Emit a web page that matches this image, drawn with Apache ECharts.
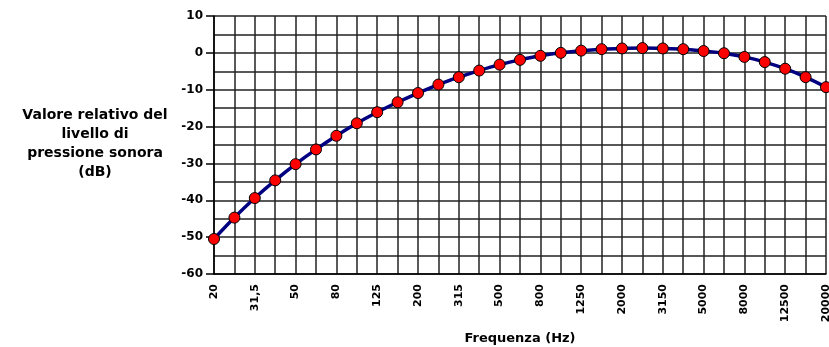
<!DOCTYPE html>
<html>
<head>
<meta charset="utf-8">
<script src="https://cdn.jsdelivr.net/npm/echarts@6/dist/echarts.min.js"></script>
<style>
  html, body { margin: 0; padding: 0; background: #fff; }
  #chart { width: 829px; height: 347px; }
</style>
</head>
<body>
<div id="chart"></div>
<script>
// bande di terzo d'ottava (Hz)
const frequenze = ['20', '25', '31,5', '40', '50', '63', '80', '100', '125', '160',
  '200', '250', '315', '400', '500', '630', '800', '1000', '1250', '1600',
  '2000', '2500', '3150', '4000', '5000', '6300', '8000', '10000', '12500', '16000', '20000']
// valore relativo (dB)
const livelli = [-50.5, -44.7, -39.4, -34.6, -30.2, -26.2, -22.5, -19.1, -16.1, -13.4,
  -10.9, -8.6, -6.6, -4.8, -3.2, -1.9, -0.8, 0, 0.6, 1.0,
  1.2, 1.3, 1.2, 1.0, 0.5, -0.1, -1.1, -2.5, -4.3, -6.6, -9.3]

const chart = echarts.init(document.getElementById('chart'))
const font = 'DejaVu Sans, Verdana, sans-serif'

chart.setOption({
  backgroundColor: '#fff',
  animation: false,
  title: {
    text: 'Valore relativo del\nlivello di\npressione sonora\n(dB)',
    left: 90,
    top: 101,
    textAlign: 'center',
    textStyle: {
      fontFamily: font,
      fontWeight: 'bold',
      fontSize: 14,
      lineHeight: 19,
      color: '#000'
    }
  },
  grid: {
    left: 214,
    right: 3,
    top: 16,
    bottom: 73,
    outerBoundsMode: 'none'
  },
  xAxis: {
    type: 'category',
    data: frequenze,
    boundaryGap: false,
    name: 'Frequenza (Hz)',
    nameLocation: 'middle',
    nameGap: 58,
    nameTextStyle: {
      fontFamily: font,
      fontWeight: 'bold',
      fontSize: 13,
      color: '#000'
    },
    axisLine: { onZero: false, lineStyle: { color: '#000', width: 1.5 } },
    axisTick: { show: false },
    axisLabel: {
      interval: 1,
      rotate: 90,
      margin: 10,
      fontFamily: font,
      fontWeight: 'bold',
      fontSize: 11,
      color: '#000'
    },
    splitLine: {
      show: true,
      interval: 0,
      lineStyle: { color: '#222', width: 1.5 }
    }
  },
  yAxis: {
    type: 'value',
    min: -60,
    max: 10,
    interval: 10,
    axisLine: { show: true, lineStyle: { color: '#000', width: 1.5 } },
    axisTick: { show: true, length: 8, lineStyle: { color: '#000', width: 1.5 } },
    axisLabel: {
      margin: 11,
      fontFamily: font,
      fontWeight: 'bold',
      fontSize: 12,
      color: '#000'
    },
    splitLine: { show: true, lineStyle: { color: '#222', width: 1.5 } },
    minorTick: { show: false, splitNumber: 2 },
    minorSplitLine: { show: true, lineStyle: { color: '#222', width: 1.5 } }
  },
  series: [{
    type: 'line',
    data: livelli,
    smooth: 0.3,
    symbol: 'circle',
    symbolSize: 11,
    lineStyle: { color: '#000080', width: 3.5 },
    itemStyle: { color: '#ff0000', borderColor: '#000', borderWidth: 1 }
  }]
})
</script>
</body>
</html>
